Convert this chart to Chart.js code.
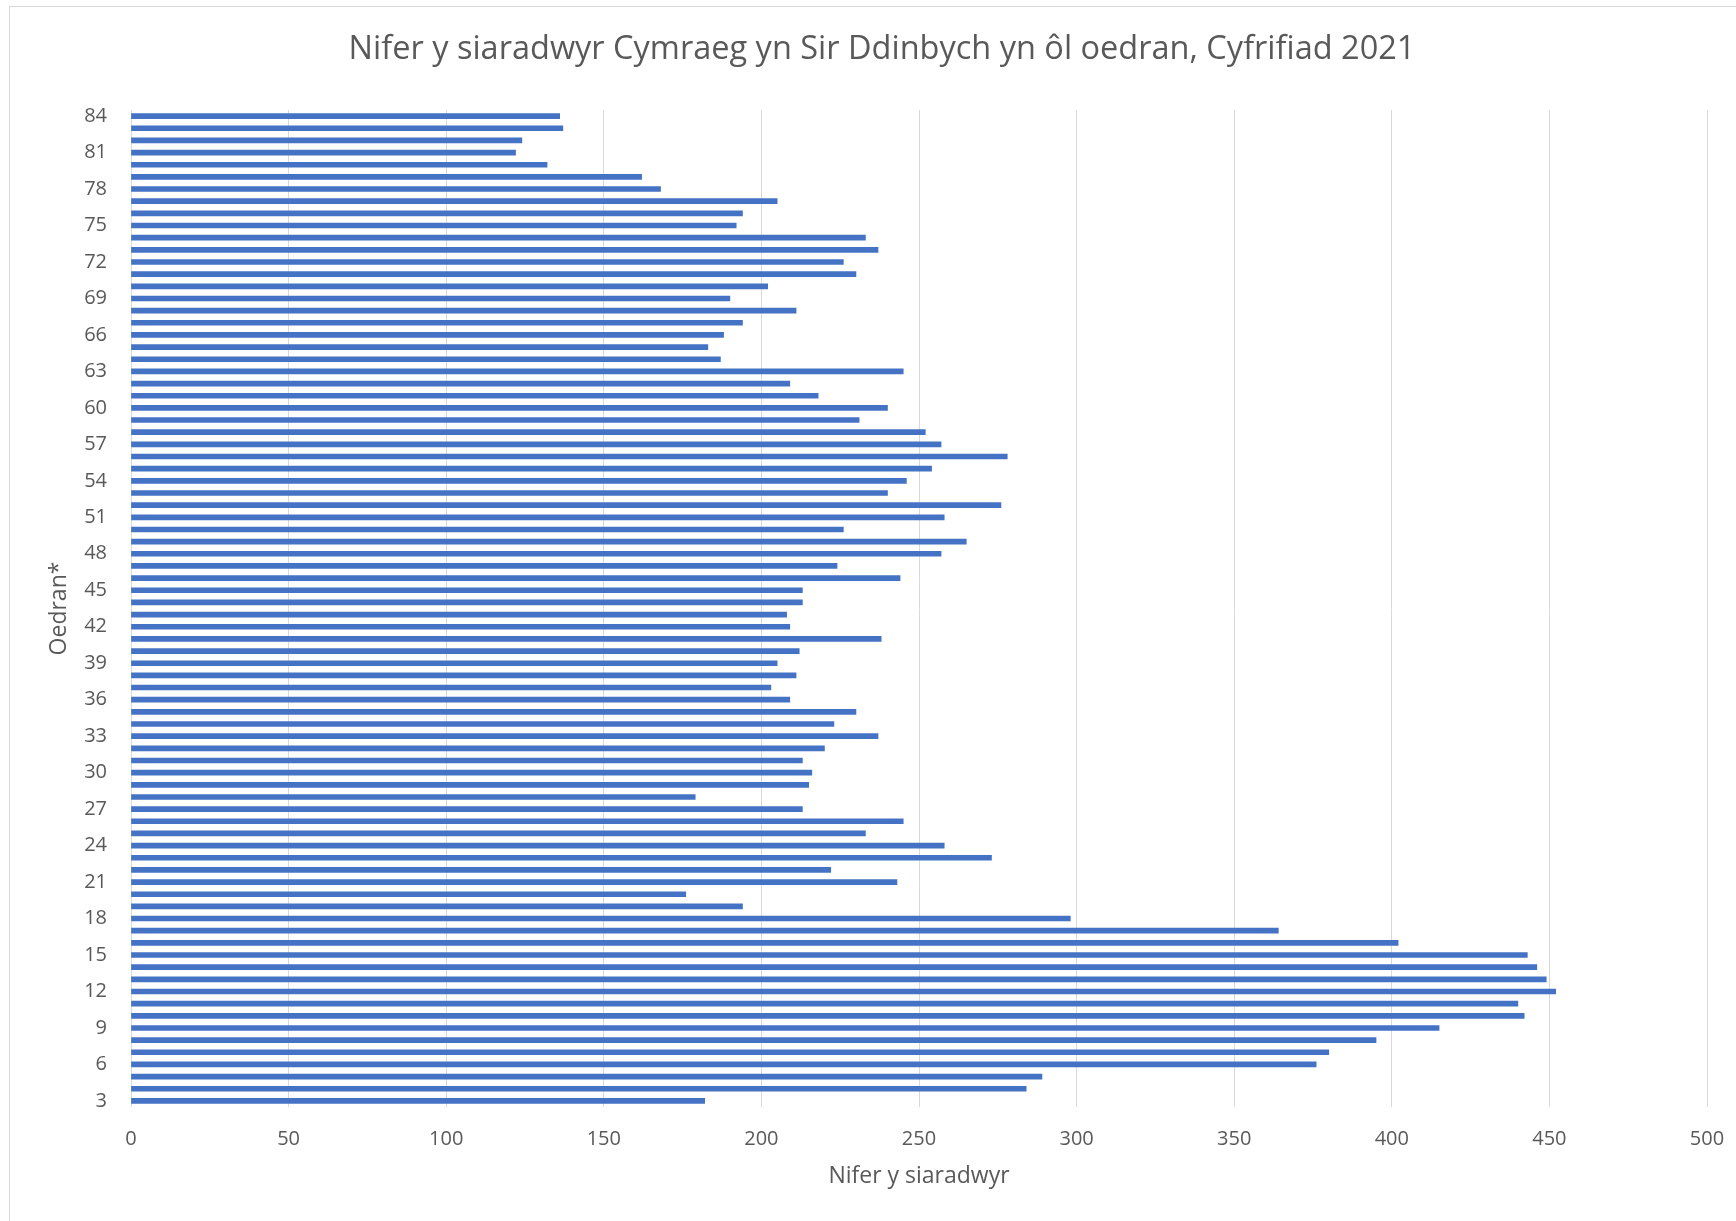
<!DOCTYPE html>
<html>
<head>
<meta charset="utf-8">
<title>Nifer y siaradwyr Cymraeg yn Sir Ddinbych yn ôl oedran, Cyfrifiad 2021</title>
<script src="https://cdn.jsdelivr.net/npm/chart.js@4/dist/chart.umd.min.js"></script>
<style>
  html, body { margin: 0; padding: 0; background: #ffffff; overflow: hidden; }
  #frame { position: absolute; left: 9px; top: 6px; width: 1800px; height: 1300px; border: 1px solid #d9d9d9; box-sizing: border-box; }
  #wrap { position: absolute; left: 0; top: 0; width: 1736px; height: 1221px; }
</style>
</head>
<body>
<div id="frame"></div>
<div id="wrap"><canvas id="chart" width="1736" height="1221"></canvas></div>
<script>
// Oedran (3 i 84)
const ages = [
  3, 4, 5, 6, 7, 8, 9, 10, 11, 12, 13, 14, 15, 16, 17, 18, 19, 20, 21, 22,
  23, 24, 25, 26, 27, 28, 29, 30, 31, 32, 33, 34, 35, 36, 37, 38, 39, 40, 41, 42,
  43, 44, 45, 46, 47, 48, 49, 50, 51, 52, 53, 54, 55, 56, 57, 58, 59, 60, 61, 62,
  63, 64, 65, 66, 67, 68, 69, 70, 71, 72, 73, 74, 75, 76, 77, 78, 79, 80, 81, 82,
  83, 84
];

// Nifer y siaradwyr Cymraeg ar gyfer pob oedran
const speakers = [
  182, 284, 289, 376, 380, 395, 415, 442, 440, 452, 449, 446, 443, 402, 364, 298, 194, 176, 243, 222,
  273, 258, 233, 245, 213, 179, 215, 216, 213, 220, 237, 223, 230, 209, 203, 211, 205, 212, 238, 209,
  208, 213, 213, 244, 224, 257, 265, 226, 258, 276, 240, 246, 254, 278, 257, 252, 231, 240, 218, 209,
  245, 187, 183, 188, 194, 211, 190, 202, 230, 226, 237, 233, 192, 194, 205, 168, 162, 132, 122, 124,
  137, 136
];

const xTicks = [0, 50, 100, 150, 200, 250, 300, 350, 400, 450, 500];

const chartTitle = 'Nifer y siaradwyr Cymraeg yn Sir Ddinbych yn ôl oedran, Cyfrifiad 2021';
const xTitle = 'Nifer y siaradwyr';
const yTitle = 'Oedran*';

const textColour = '#595959';
const gridColour = '#d9d9d9';
const barColour = '#4472C4';
const fontFamily = '"Open Sans", "Noto Sans", sans-serif';

// Heading drawn centred over the whole chart frame rather than the padded layout box
const headingPlugin = {
  id: 'heading',
  afterDraw(chart) {
    const ctx = chart.ctx;
    ctx.save();
    ctx.font = '32.5px ' + fontFamily;
    ctx.fillStyle = textColour;
    ctx.textAlign = 'center';
    ctx.textBaseline = 'middle';
    ctx.fillText(chartTitle, 882, 50);
    ctx.restore();
  }
};

new Chart(document.getElementById('chart'), {
  type: 'bar',
  data: {
    labels: ages.map(String),
    datasets: [{
      label: xTitle,
      data: speakers,
      backgroundColor: barColour,
      borderWidth: 0,
      barThickness: 5
    }]
  },
  plugins: [headingPlugin],
  options: {
    indexAxis: 'y',
    responsive: false,
    animation: false,
    devicePixelRatio: 1,
    layout: { padding: { left: 42, right: 29, top: 110, bottom: 14 } },
    plugins: {
      legend: { display: false },
      tooltip: { enabled: false },
      title: { display: false }
    },
    scales: {
      x: {
        min: 0,
        max: 500,
        afterBuildTicks: (scale) => { scale.ticks = xTicks.map(v => ({ value: v })); },
        afterFit: (scale) => { scale.height = 100; },
        grid: { color: gridColour, lineWidth: 1, drawTicks: false },
        border: { display: false },
        // tall line height keeps the labels clear of the plot without widening the side padding
        ticks: { color: textColour, padding: 0, font: { family: fontFamily, size: 20, lineHeight: 3.2 } },
        title: {
          display: true,
          text: xTitle,
          color: textColour,
          font: { family: fontFamily, size: 23 },
          padding: { top: 4, bottom: 17 }
        }
      },
      y: {
        reverse: true,
        afterFit: (scale) => { scale.width = 89; },
        grid: { display: false, drawTicks: false },
        border: { display: false },
        ticks: {
          color: textColour,
          padding: 24,
          autoSkip: false,
          font: { family: fontFamily, size: 20 },
          callback: function (value, index) {
            const age = ages[index];
            return age % 3 === 0 ? String(age) : '';
          }
        },
        title: {
          display: true,
          text: yTitle,
          color: textColour,
          font: { family: fontFamily, size: 23 },
          padding: { top: 4, bottom: 4 }
        }
      }
    }
  }
});
</script>
</body>
</html>
